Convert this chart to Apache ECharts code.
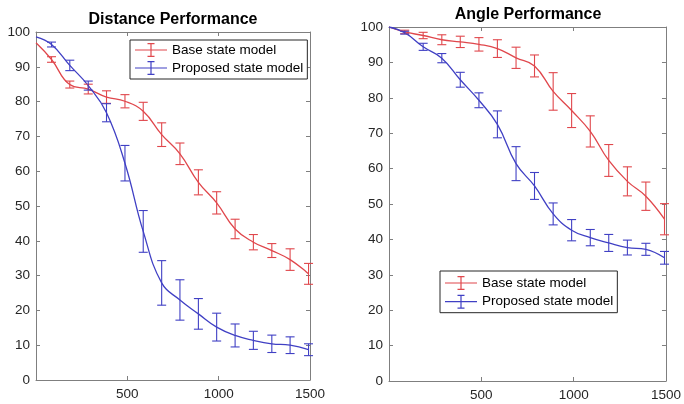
<!DOCTYPE html>
<html>
<head>
<meta charset="utf-8">
<script src="https://cdn.jsdelivr.net/npm/echarts@6/dist/echarts.min.js"></script>
<style>
html,body{margin:0;padding:0;background:#fff;}
#chart{width:684px;height:404px;}
</style>
</head>
<body>
<div id="chart"></div>
<script>
// ---- data ----
var seriesNames = ['Base state model', 'Proposed state model'];
var titles = ['Distance Performance', 'Angle Performance'];
var xPts = [85, 185, 286, 386, 487, 587, 688, 788, 889, 989, 1090, 1190, 1291, 1391, 1492];
var xTicks = [0, 500, 1000, 1500];
var yTicks = [0, 10, 20, 30, 40, 50, 60, 70, 80, 90, 100];

var distBaseStart = 96.9;
var distBaseMean = [92.1, 84.9, 83.6, 81.3, 80.1, 77.2, 70.5, 65.0, 56.8, 50.9, 43.4, 39.6, 37.2, 34.6, 30.5];
var distBaseErr  = [0.8, 1.0, 1.4, 1.8, 1.9, 2.6, 3.4, 3.1, 3.6, 3.2, 2.8, 2.2, 2.0, 3.1, 3.0];
var distPropStart = 98.6;
var distPropMean = [96.4, 90.4, 84.6, 76.8, 62.3, 42.7, 27.9, 23.0, 19.0, 15.2, 12.8, 11.4, 10.4, 10.0, 8.7];
var distPropErr  = [0.7, 1.5, 1.3, 2.6, 5.1, 6.0, 6.4, 5.8, 4.4, 4.0, 3.3, 2.6, 2.5, 2.4, 1.7];

var angleBaseStart = 100;
var angleBaseMean = [98.6, 97.6, 96.4, 95.8, 95.1, 93.9, 91.3, 89.0, 81.8, 76.4, 70.5, 62.3, 56.4, 52.2, 45.7];
var angleBaseErr  = [0.5, 0.9, 1.4, 1.6, 1.9, 2.5, 3.0, 3.1, 5.3, 4.8, 4.4, 4.5, 4.1, 4.0, 4.4];
var anglePropStart = 100;
var anglePropMean = [98.4, 94.4, 91.2, 85.1, 79.3, 72.5, 61.4, 55.1, 47.2, 42.6, 40.5, 39.0, 37.7, 37.2, 34.8];
var anglePropErr  = [0.4, 1.0, 1.3, 2.1, 2.1, 3.8, 4.8, 3.8, 3.1, 3.0, 2.3, 2.4, 2.1, 1.7, 1.8];

// ---- style ----
var RED = '#e0474c';
var BLUE = '#4040c4';
var AXIS = '#7f7f7f';
var TXT = '#262626';
var FONT = 'Liberation Sans, Arial, Helvetica, sans-serif';
var ICON = 'path://M0,6.4H32V7.6H0Z M15.4,0H16.6V14H15.4Z M12.5,0H19.5V1.2H12.5Z M12.5,12.8H19.5V14H12.5Z';

function linePts(start, mean) {
  var out = [[0, start]];
  for (var i = 0; i < xPts.length; i++) out.push([xPts[i], mean[i]]);
  return out;
}
function errPts(mean, err) {
  var out = [];
  for (var i = 0; i < xPts.length; i++) out.push([xPts[i], mean[i] - err[i], mean[i] + err[i]]);
  return out;
}
function errRender(color) {
  return function (params, api) {
    var x = api.value(0), lo = api.value(1), hi = api.value(2);
    var p1 = api.coord([x, lo]), p2 = api.coord([x, hi]);
    var w = 4.5;
    var st = {stroke: color, lineWidth: 1.1, fill: null};
    return {type: 'group', children: [
      {type: 'line', shape: {x1: p1[0], y1: p1[1], x2: p2[0], y2: p2[1]}, style: st},
      {type: 'line', shape: {x1: p1[0] - w, y1: p1[1], x2: p1[0] + w, y2: p1[1]}, style: st},
      {type: 'line', shape: {x1: p2[0] - w, y1: p2[1], x2: p2[0] + w, y2: p2[1]}, style: st}
    ]};
  };
}

var grids = [
  {left: 36, top: 32, width: 274, height: 348},
  {left: 389, top: 27, width: 279, height: 354}
];

var xAxes = [], yAxes = [];
grids.forEach(function (g, gi) {
  var tickCommon = {show: true, inside: true, length: 4, lineStyle: {color: AXIS, width: 1}};
  xAxes.push({gridIndex: gi, type: 'value', position: 'bottom', min: xTicks[0], max: xTicks[xTicks.length - 1], interval: xTicks[1] - xTicks[0],
    axisLine: {show: true, onZero: false, lineStyle: {color: AXIS, width: 1}}, axisTick: tickCommon, splitLine: {show: false},
    axisLabel: {show: true, color: TXT, fontSize: 13.5, fontFamily: FONT, margin: 7, formatter: function (v) { return v === 0 ? '' : String(v); }}});
  xAxes.push({gridIndex: gi, type: 'value', position: 'top', min: xTicks[0], max: xTicks[xTicks.length - 1], interval: xTicks[1] - xTicks[0],
    axisLine: {show: true, onZero: false, lineStyle: {color: AXIS, width: 1}}, axisTick: tickCommon, splitLine: {show: false}, axisLabel: {show: false}});
  yAxes.push({gridIndex: gi, type: 'value', position: 'left', min: yTicks[0], max: yTicks[yTicks.length - 1], interval: yTicks[1] - yTicks[0],
    axisLine: {show: true, onZero: false, lineStyle: {color: AXIS, width: 1}}, axisTick: tickCommon, splitLine: {show: false},
    axisLabel: {show: true, color: TXT, fontSize: 13.5, fontFamily: FONT, margin: 6}});
  yAxes.push({gridIndex: gi, type: 'value', position: 'right', min: yTicks[0], max: yTicks[yTicks.length - 1], interval: yTicks[1] - yTicks[0],
    axisLine: {show: true, onZero: false, lineStyle: {color: AXIS, width: 1}}, axisTick: tickCommon, splitLine: {show: false}, axisLabel: {show: false}});
});

var panels = [
  {base: [distBaseStart, distBaseMean, distBaseErr], prop: [distPropStart, distPropMean, distPropErr]},
  {base: [angleBaseStart, angleBaseMean, angleBaseErr], prop: [anglePropStart, anglePropMean, anglePropErr]}
];

var series = [];
panels.forEach(function (p, gi) {
  [['base', RED, seriesNames[0]], ['prop', BLUE, seriesNames[1]]].forEach(function (s) {
    var d = p[s[0]];
    series.push({type: 'line', name: s[2], xAxisIndex: gi * 2, yAxisIndex: gi * 2, data: linePts(d[0], d[1]),
      smooth: 0.45, showSymbol: false, symbol: 'none', color: s[1], itemStyle: {color: s[1]},
      lineStyle: {color: s[1], width: 1.3}, animation: false, z: 2});
    series.push({type: 'custom', name: s[2] + ' error', xAxisIndex: gi * 2, yAxisIndex: gi * 2, data: errPts(d[1], d[2]),
      renderItem: errRender(s[1]), encode: {x: 0, y: [1, 2]}, animation: false, z: 3, silent: true});
  });
});

function legendAt(left, top, pad, gap) {
  return {left: left, top: top, orient: 'vertical', itemWidth: 32, itemHeight: 14, itemGap: gap, padding: pad,
    borderColor: '#262626', borderWidth: 1, backgroundColor: '#fff', icon: ICON, selectedMode: false,
    textStyle: {fontSize: 13.5, color: '#000', fontFamily: FONT},
    data: seriesNames.map(function (n) { return {name: n, icon: ICON}; })};
}

var chart = echarts.init(document.getElementById('chart'), null, {renderer: 'canvas'});
chart.setOption({
  backgroundColor: '#fff',
  animation: false,
  title: [
    {text: titles[0], left: 173, top: 12, textAlign: 'center', padding: 0,
      textStyle: {fontSize: 16, fontWeight: 'bold', color: '#000', fontFamily: FONT}},
    {text: titles[1], left: 528, top: 6.5, textAlign: 'center', padding: 0,
      textStyle: {fontSize: 16, fontWeight: 'bold', color: '#000', fontFamily: FONT}}
  ],
  legend: [legendAt(130, 40, [3, 4, 4, 5], 4), legendAt(440, 271, [5, 4, 4, 5], 4.7)],
  grid: grids,
  xAxis: xAxes,
  yAxis: yAxes,
  series: series
});
</script>
</body>
</html>
